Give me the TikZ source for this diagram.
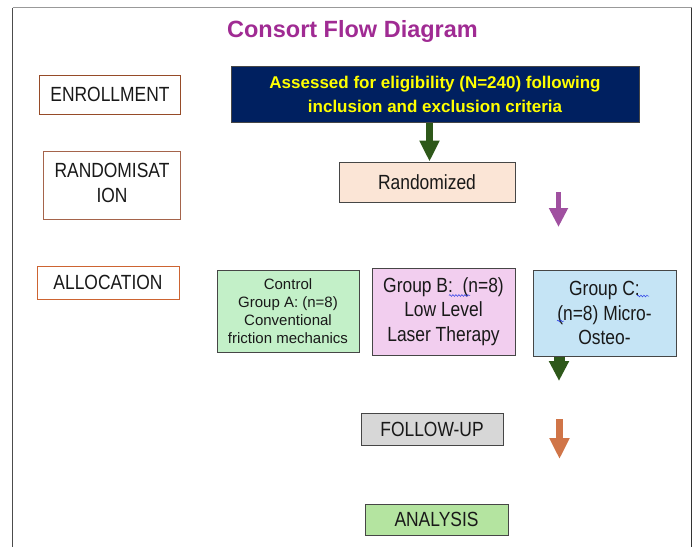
\documentclass[tikz,border=0pt]{standalone}
\usepackage{fontspec}
\setmainfont{Liberation Sans}
\newfontfamily\narrowfont[FakeStretch=0.85]{Liberation Sans}
\usetikzlibrary{arrows.meta,decorations.pathmorphing}
\definecolor{titlepurple}{RGB}{160,43,147}
\definecolor{navy}{RGB}{0,32,96}
\definecolor{yellowtxt}{RGB}{255,255,0}
\definecolor{dkgreen}{RGB}{46,88,26}
\definecolor{arrpurple}{RGB}{160,80,160}
\definecolor{arrorange}{RGB}{208,117,72}
\definecolor{peach}{RGB}{251,229,214}
\definecolor{ctlgreen}{RGB}{195,240,200}
\definecolor{pinkb}{RGB}{242,206,239}
\definecolor{bluec}{RGB}{197,228,245}
\definecolor{greyf}{RGB}{215,215,215}
\definecolor{greena}{RGB}{180,228,160}
\definecolor{boxline}{RGB}{70,70,70}
\definecolor{brownA}{RGB}{150,75,40}
\definecolor{brownB}{RGB}{165,100,75}
\definecolor{orangeC}{RGB}{205,100,50}
\definecolor{spell}{RGB}{40,60,230}
\tikzset{
  narrowtxt/.style={font=\narrowfont\fontsize{20.5}{24.5}\selectfont, text=black!90},
  flowbox/.style={draw=boxline, line width=1pt, inner sep=0pt, align=center, narrowtxt},
  stagebox/.style={line width=1pt, fill=white, inner sep=0pt, align=center, narrowtxt},
  spellmark/.style={draw=spell, line width=0.5pt, decorate, decoration={snake, amplitude=0.9pt, segment length=3pt}}
}
\begin{document}
\begin{tikzpicture}[x=1pt,y=-1pt]
\useasboundingbox (0,0) rectangle (696,547);
% frame
\draw[draw=black!40, line width=1pt] (12.5,7.5) -- (692,7.5);
\draw[draw=black!70, line width=1pt] (12.5,7.5) -- (12.5,547);
\draw[draw=black!80, line width=1pt] (691.5,7.5) -- (691.5,547);

% title
\node[anchor=base, text=titlepurple, font=\bfseries\fontsize{23.5}{28}\selectfont, inner sep=0pt] (title) at (352.5,37) {Consort Flow Diagram};

% stage labels
\node[stagebox, draw=brownA, minimum width=141pt, minimum height=39pt] (enroll) at (110,94.5) {ENROLLMENT};
\node[stagebox, draw=brownB, minimum width=137pt, minimum height=68pt] (randlbl) at (112,185) {RANDOMISAT\\ION\vphantom{g}};
\node[stagebox, draw=orangeC, minimum width=142pt, minimum height=33pt] (alloc) at (108,282.5) {ALLOCATION};

% flow boxes
\node[flowbox, fill=navy, text=yellowtxt, font=\bfseries\fontsize{17}{24}\selectfont, minimum width=408pt, minimum height=56pt] (assess) at (435,94) {Assessed for eligibility (N=240) following\\inclusion and exclusion criteria};
\node[flowbox, fill=peach, minimum width=176pt, minimum height=40pt] (rand) at (427,182) {Randomized};
\node[flowbox, fill=ctlgreen, font=\fontsize{15}{18}\selectfont, minimum width=142pt, minimum height=82pt] (grpA) at (288,311) {Control\\Group A: (n=8)\\Conventional\\friction mechanics};
\node[flowbox, fill=pinkb, minimum width=143pt, minimum height=87pt] (grpB) at (443.5,311.5) {Group B:\ \ (n=8)\\Low Level\\Laser Therapy};
\node[flowbox, fill=bluec, minimum width=143pt, minimum height=86pt] (grpC) at (604.5,313) {Group C:\\(n=8) Micro-\\Osteo-};
\node[flowbox, fill=greyf, minimum width=142pt, minimum height=32pt] (follow) at (432,429) {FOLLOW-UP};
\node[flowbox, fill=greena, minimum width=143pt, minimum height=31pt] (analysis) at (436.5,519.5) {ANALYSIS};

% spell-check marks
\draw[spellmark] (449,295.5) -- (470,295.5);
\draw[spellmark] (637,296) -- (649,296);
\draw[spellmark] (557,321) -- (564,321);

% block arrows
\coordinate (gA) at (429.5,0);
\draw[draw=dkgreen, line width=7pt, -{Triangle[width=19pt,length=21pt]}] (assess.south -| gA) -- (rand.north -| gA);
\coordinate (pTop) at (558.5,192);
\coordinate (pEnd) at (558.5,227);
\draw[draw=arrpurple, line width=5.5pt, -{Triangle[width=18pt,length=19pt]}] (pTop) -- (pEnd);
\coordinate (gC) at (559,0);
\coordinate (gCend) at (559,381);
\draw[draw=dkgreen, line width=11pt, -{Triangle[width=19pt,length=20pt]}] (grpC.south -| gC) -- (gCend);
\coordinate (oTop) at (559.5,419);
\coordinate (oEnd) at (559.5,459);
\draw[draw=arrorange, line width=7pt, -{Triangle[width=19pt,length=21pt]}] (oTop) -- (oEnd);
\end{tikzpicture}
\end{document}
